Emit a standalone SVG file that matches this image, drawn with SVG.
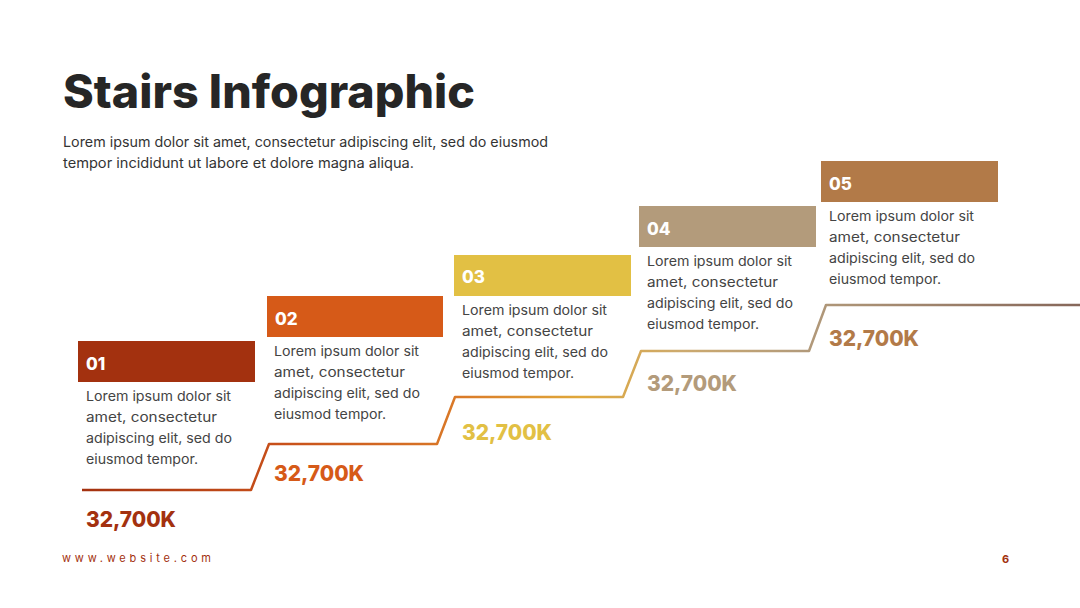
<svg xmlns="http://www.w3.org/2000/svg" width="1080" height="608" viewBox="0 0 1080 608">
<defs>
<linearGradient id="lineGrad" gradientUnits="userSpaceOnUse" x1="80" y1="0" x2="1080" y2="0">
<stop offset="0" stop-color="#A3310F"/>
<stop offset="0.2" stop-color="#C8501A"/>
<stop offset="0.38" stop-color="#DA7A28"/>
<stop offset="0.5" stop-color="#E0A83A"/>
<stop offset="0.6" stop-color="#CDAA6E"/>
<stop offset="0.72" stop-color="#B39B7B"/>
<stop offset="1" stop-color="#86675A"/>
</linearGradient>
</defs>
<style>
.title{font-family:Inter,"Liberation Sans",sans-serif;font-weight:800;font-size:46px;fill:#262626}
.sub{font-family:Inter,"Liberation Sans",sans-serif;font-size:14px;fill:#333333}
.body{font-family:Inter,"Liberation Sans",sans-serif;font-size:13.5px;fill:#444444}
.num{font-family:Inter,"Liberation Sans",sans-serif;font-weight:800;font-size:17px;fill:#ffffff}
.val{font-family:Inter,"Liberation Sans",sans-serif;font-weight:800;font-size:22px}
.foot{font-family:Inter,"Liberation Sans",sans-serif;font-size:11px;fill:#A3310F}
.stair{fill:none;stroke:url(#lineGrad);stroke-width:2.5;stroke-linejoin:round}
</style>
<rect width="1080" height="608" fill="#ffffff"/>
<g id="header">
<text class="title" x="63" y="108" textLength="412" lengthAdjust="spacingAndGlyphs">Stairs Infographic</text>
<text class="sub" x="63" y="147" textLength="485" lengthAdjust="spacingAndGlyphs">Lorem ipsum dolor sit amet, consectetur adipiscing elit, sed do eiusmod</text>
<text class="sub" x="63" y="168" textLength="351" lengthAdjust="spacingAndGlyphs">tempor incididunt ut labore et dolore magna aliqua.</text>
</g>
<g id="connectors">
<path class="stair" d="M82,490 L251,490 L269,444 L437,444 L455,397 L623,397 L641,351 L809,351 L826,305 L1080,305"/>
</g>
<g id="step1">
<rect x="78" y="341" width="177" height="41" fill="#A3310F"/>
<text class="num" x="86" y="370">01</text>
<text class="body" x="86" y="401" textLength="145" lengthAdjust="spacingAndGlyphs">Lorem ipsum dolor sit</text>
<text class="body" x="86" y="422" textLength="131" lengthAdjust="spacingAndGlyphs">amet, consectetur</text>
<text class="body" x="86" y="443" textLength="146" lengthAdjust="spacingAndGlyphs">adipiscing elit, sed do</text>
<text class="body" x="86" y="464" textLength="112" lengthAdjust="spacingAndGlyphs">eiusmod tempor.</text>
<text class="val" x="86" y="527" fill="#A3310F" textLength="90" lengthAdjust="spacingAndGlyphs">32,700K</text>
</g>
<g id="step2">
<rect x="267" y="296" width="176" height="41" fill="#D65A18"/>
<text class="num" x="275" y="325">02</text>
<text class="body" x="274" y="356" textLength="145" lengthAdjust="spacingAndGlyphs">Lorem ipsum dolor sit</text>
<text class="body" x="274" y="377" textLength="131" lengthAdjust="spacingAndGlyphs">amet, consectetur</text>
<text class="body" x="274" y="398" textLength="146" lengthAdjust="spacingAndGlyphs">adipiscing elit, sed do</text>
<text class="body" x="274" y="419" textLength="112" lengthAdjust="spacingAndGlyphs">eiusmod tempor.</text>
<text class="val" x="274" y="481" fill="#D65A18" textLength="90" lengthAdjust="spacingAndGlyphs">32,700K</text>
</g>
<g id="step3">
<rect x="454" y="255" width="177" height="41" fill="#E2C044"/>
<text class="num" x="462" y="283">03</text>
<text class="body" x="462" y="315" textLength="145" lengthAdjust="spacingAndGlyphs">Lorem ipsum dolor sit</text>
<text class="body" x="462" y="336" textLength="131" lengthAdjust="spacingAndGlyphs">amet, consectetur</text>
<text class="body" x="462" y="357" textLength="146" lengthAdjust="spacingAndGlyphs">adipiscing elit, sed do</text>
<text class="body" x="462" y="378" textLength="112" lengthAdjust="spacingAndGlyphs">eiusmod tempor.</text>
<text class="val" x="462" y="440" fill="#E2C044" textLength="90" lengthAdjust="spacingAndGlyphs">32,700K</text>
</g>
<g id="step4">
<rect x="639" y="206" width="177" height="41" fill="#B39B7B"/>
<text class="num" x="647" y="235">04</text>
<text class="body" x="647" y="266" textLength="145" lengthAdjust="spacingAndGlyphs">Lorem ipsum dolor sit</text>
<text class="body" x="647" y="287" textLength="131" lengthAdjust="spacingAndGlyphs">amet, consectetur</text>
<text class="body" x="647" y="308" textLength="146" lengthAdjust="spacingAndGlyphs">adipiscing elit, sed do</text>
<text class="body" x="647" y="329" textLength="112" lengthAdjust="spacingAndGlyphs">eiusmod tempor.</text>
<text class="val" x="647" y="391" fill="#B39B7B" textLength="90" lengthAdjust="spacingAndGlyphs">32,700K</text>
</g>
<g id="step5">
<rect x="821" y="161" width="177" height="41" fill="#B27A48"/>
<text class="num" x="829" y="190">05</text>
<text class="body" x="829" y="221" textLength="145" lengthAdjust="spacingAndGlyphs">Lorem ipsum dolor sit</text>
<text class="body" x="829" y="242" textLength="131" lengthAdjust="spacingAndGlyphs">amet, consectetur</text>
<text class="body" x="829" y="263" textLength="146" lengthAdjust="spacingAndGlyphs">adipiscing elit, sed do</text>
<text class="body" x="829" y="284" textLength="112" lengthAdjust="spacingAndGlyphs">eiusmod tempor.</text>
<text class="val" x="829" y="346" fill="#B27A48" textLength="90" lengthAdjust="spacingAndGlyphs">32,700K</text>
</g>
<g id="footer">
<text class="foot" x="62" y="562" textLength="149" lengthAdjust="spacing">www.website.com</text>
<text class="foot" x="1002" y="563" font-weight="700" font-size="10">6</text>
</g>
</svg>
